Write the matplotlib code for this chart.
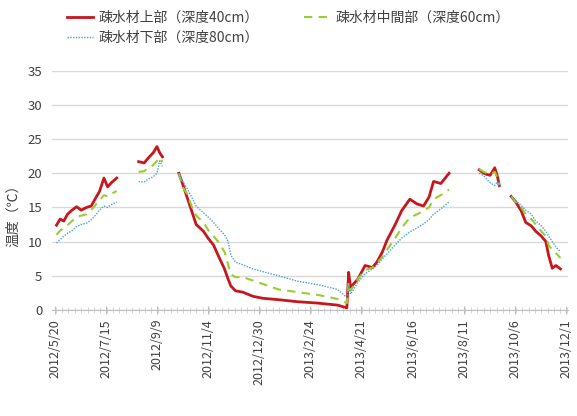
import matplotlib
matplotlib.use("Agg")
import matplotlib.pyplot as plt
import matplotlib.dates as mdates
import numpy as np
import pandas as pd

plt.rcParams['font.family'] = ['Noto Sans CJK JP', 'DejaVu Sans']

## Measurement dates (NaN rows mark gaps in the record)
dates = pd.to_datetime([
    # segment 1
    "2012-05-22", "2012-05-26", "2012-05-30", "2012-06-03", "2012-06-08", "2012-06-13",
    "2012-06-18", "2012-06-24", "2012-06-29", "2012-07-04", "2012-07-08", "2012-07-13",
    "2012-07-17", "2012-07-21", "2012-07-27",
    "2012-08-05",
    # segment 2
    "2012-08-20", "2012-08-26", "2012-08-31", "2012-09-05", "2012-09-09", "2012-09-12",
    "2012-09-15",
    "2012-09-25",
    # segment 3
    "2012-10-03", "2012-10-07", "2012-10-12", "2012-10-17", "2012-10-22", "2012-10-30",
    "2012-11-04", "2012-11-10", "2012-11-15", "2012-11-22", "2012-11-26", "2012-11-29",
    "2012-12-04", "2012-12-12", "2012-12-23", "2013-01-03", "2013-01-20", "2013-02-10",
    "2013-03-04", "2013-03-26", "2013-04-05", "2013-04-07", "2013-04-09", "2013-04-17",
    "2013-04-25", "2013-05-03", "2013-05-08", "2013-05-14", "2013-05-19", "2013-05-28",
    "2013-06-04", "2013-06-13", "2013-06-21", "2013-06-28", "2013-07-04", "2013-07-09",
    "2013-07-17", "2013-07-26",
    "2013-08-12",
    # segment 4
    "2013-08-28", "2013-09-02", "2013-09-06", "2013-09-09", "2013-09-14", "2013-09-17",
    "2013-09-19",
    "2013-09-25",
    # segment 5
    "2013-10-02", "2013-10-07", "2013-10-13", "2013-10-18", "2013-10-24", "2013-10-29",
    "2013-11-04", "2013-11-09", "2013-11-12", "2013-11-16", "2013-11-20", "2013-11-25",
])

nan = np.nan
upper = [
    12.4, 13.3, 13.0, 14.0, 14.6, 15.1, 14.6, 15.0, 15.2, 16.4, 17.3, 19.3, 18.0, 18.6, 19.3,
    nan,
    21.7, 21.5, 22.3, 23.0, 23.9, 23.0, 22.4,
    nan,
    20.0, 18.5, 16.5, 14.5, 12.5, 11.5, 10.5, 9.5, 8.0, 6.0, 4.5, 3.5, 2.8, 2.6, 2.0, 1.7,
    1.5, 1.2, 1.0, 0.7, 0.3, 5.5, 3.3, 4.5, 6.5, 6.2, 7.0, 8.5, 10.2, 12.5, 14.5, 16.2,
    15.5, 15.2, 16.5, 18.8, 18.5, 20.0,
    nan,
    20.5, 20.0, 19.8, 19.7, 20.8, 19.5, 18.2,
    nan,
    16.6, 15.8, 14.5, 12.8, 12.3, 11.5, 10.8, 10.0, 8.0, 6.1, 6.5, 6.0,
]
middle = [
    11.0, 11.6, 12.0, 12.4, 13.0, 13.6, 13.8, 14.0, 14.6, 15.4, 16.0, 16.8, 16.6, 17.0, 17.4,
    nan,
    20.2, 20.3, 20.8, 21.2, 21.8, 22.3, 21.6,
    nan,
    20.0, 18.0, 17.0, 15.2, 13.8, 12.8, 11.7, 10.8, 10.0, 8.5, 6.6, 5.2, 4.8, 4.8, 4.3, 3.8,
    3.0, 2.6, 2.2, 1.6, 1.0, 4.0, 2.8, 4.5, 5.8, 6.2, 6.8, 7.8, 8.8, 10.5, 12.0, 13.5,
    14.0, 14.5, 15.0, 16.2, 16.8, 17.6,
    nan,
    20.6, 20.2, 20.0, 19.8, 20.2, 19.3, 18.3,
    nan,
    16.6, 15.8, 15.0, 14.0, 13.3, 12.5, 11.5, 10.8, 9.5, 8.8, 8.3, 7.6,
]
lower = [
    9.8, 10.3, 10.8, 11.2, 11.6, 12.2, 12.5, 12.7, 13.2, 13.9, 14.6, 15.2, 15.0, 15.4, 15.8,
    nan,
    18.8, 18.7, 19.2, 19.5, 20.0, 21.8, 21.0,
    nan,
    20.0, 18.8, 17.8, 16.5, 15.2, 14.2, 13.6, 12.8, 12.0, 11.0, 10.0, 8.0, 7.0, 6.6, 6.0, 5.6,
    5.0, 4.2, 3.7, 3.0, 1.8, 3.5, 2.3, 4.0, 5.3, 6.0, 6.5, 7.5, 8.2, 9.5, 10.5, 11.4,
    12.0, 12.6, 13.2, 14.0, 14.8, 15.8,
    nan,
    20.0, 19.6, 19.0, 18.6, 18.2, 18.8, 18.0,
    nan,
    16.6, 16.0, 15.3, 14.6, 14.0, 13.0, 12.3, 11.5, 10.8, 10.0, 9.2, 8.5,
]

labels = ["疎水材上部（深度40cm）", "疎水材中間部（深度60cm）", "疎水材下部（深度80cm）"]
tick_dates = pd.date_range("2012-05-20", "2013-12-01", freq="56D")

fig = plt.figure(figsize=(5.77, 4.16), dpi=100)
ax = fig.add_axes([0.090, 0.255, 0.894, 0.575])

l1, = ax.plot(dates, upper, color="#c8161d", lw=2.0, label=labels[0])
l2, = ax.plot(dates, middle, color="#9acd32", lw=1.5, ls=(0, (4, 3)), label=labels[1])
l3, = ax.plot(dates, lower, color="#4a9fd8", lw=1.0, ls=(0, (1, 1)), label=labels[2])

ax.set_ylim(0, 35)
ax.set_yticks(range(0, 36, 5))
ax.set_xlim(pd.Timestamp("2012-05-17"), pd.Timestamp("2013-12-03"))
ax.set_xticks(tick_dates)
ax.set_xticklabels([f"{d.year}/{d.month}/{d.day}" for d in tick_dates], rotation=90)
ax.xaxis.set_minor_locator(mdates.DayLocator(interval=7))

ax.grid(axis="y", color="#d9d9d9", lw=1.0)
ax.set_axisbelow(True)
for s in ["left", "right", "top"]:
    ax.spines[s].set_visible(False)
ax.spines["bottom"].set_color("#bfbfbf")
ax.tick_params(axis="y", length=0, labelsize=9.5, colors="#404040", pad=7)
ax.tick_params(axis="x", which="major", direction="inout", length=6, color="#bfbfbf",
               labelsize=9, labelcolor="#404040")
ax.tick_params(axis="x", which="minor", direction="inout", length=4, color="#cfcfcf")

fig.text(0.022, 0.49, "温度（℃）", rotation=90, ha="center", va="center",
         fontsize=10, color="#404040")

fig.legend([l1, l3, l2], [labels[0], labels[2], labels[1]], ncol=2, loc="upper center",
           bbox_to_anchor=(0.50, 1.005), frameon=False, fontsize=10, handlelength=1.9,
           handletextpad=0.4, columnspacing=3.2, labelspacing=0.45, labelcolor="#404040")

fig.savefig("out.png", dpi=100)
